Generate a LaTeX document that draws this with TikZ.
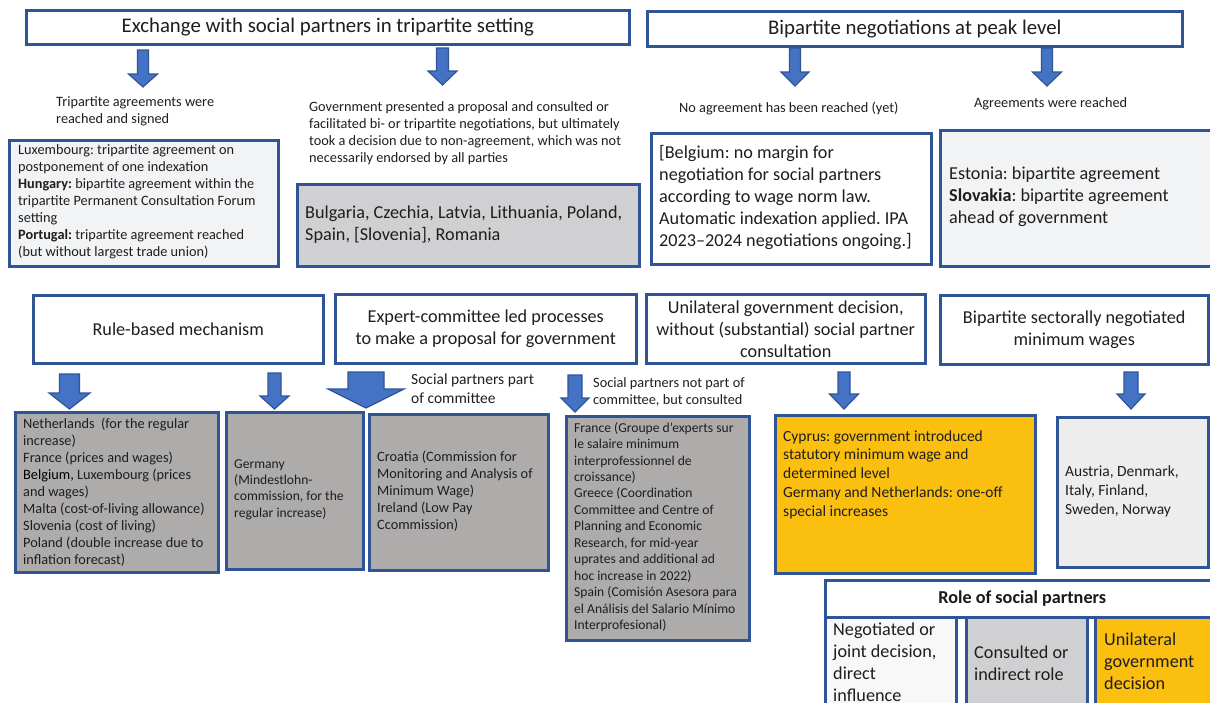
\documentclass[tikz,border=0pt]{standalone}
\usepackage{fontspec}
\setmainfont{Carlito}
\usetikzlibrary{calc}
\frenchspacing
\definecolor{bblue}{HTML}{2F5597}
\definecolor{afill}{HTML}{4472C4}
\definecolor{gold}{HTML}{FBBF10}
\definecolor{dgrey}{HTML}{AEABAB}
\definecolor{mgrey}{HTML}{D0D0D2}
\definecolor{lgreyA}{HTML}{F2F3F5}
\definecolor{lgreyB}{HTML}{EDEDED}
\definecolor{lgreyC}{HTML}{F8F8F8}
\definecolor{txtc}{HTML}{1E1E1E}
\newcommand\fs[2]{\fontsize{#1}{#2}\selectfont\frenchspacing}
\newcommand\barrow[6]{%
  \draw[barrowst] ({#1-#5},#2) -- ({#1+#5},#2) -- ({#1+#5},#3) -- ({#1+#6},#3) -- (#1,#4) -- ({#1-#6},#3) -- ({#1-#5},#3) -- cycle;}
\tikzset{
  box/.style={draw=bblue, line width=2.5pt, inner sep=0pt, anchor=north west, text=txtc},
  hdr/.style={box, align=center, font=\fs{18.2}{22}},
  lbl/.style={inner sep=0pt, align=left, anchor=west, text=txtc},
  small/.style={font=\fs{14.3}{17}},
  smaller/.style={font=\fs{13.6}{16.45}},
  medium/.style={font=\fs{15.5}{18.7}},
  large/.style={font=\fs{18.2}{22}},
  barrowst/.style={fill=afill, draw=bblue, line width=1.2pt, line join=miter},
}
\begin{document}
\begin{tikzpicture}[x=1pt,y=-1pt]
\fill[white] (0,0) rectangle (1210,702);
\useasboundingbox (0,0) rectangle (1210,702);

% ---- top headers
\node[box, minimum width=603pt, minimum height=34pt, font=\fs{20.8}{25}] (t1) at (25,9) {Exchange with social partners in tripartite setting};
\node[box, minimum width=535pt, minimum height=35pt, font=\fs{20.8}{25}] (t2) at (646,10) {Bipartite negotiations at peak level};

\barrow{143}{50}{74}{87}{5.5}{14.5}
\barrow{442.5}{48}{71}{85}{6}{14.5}
\barrow{795}{48}{72}{86}{5.5}{14}
\barrow{1047}{48}{72}{86}{5.5}{14.5}

\node[lbl, small] (la) at (56,111.5) {Tripartite agreements were\\reached and signed};
\node[lbl, small] (lb) at (309,133.5) {Government presented a proposal and consulted or\\facilitated bi- or tripartite negotiations, but ultimately\\took a decision due to non-agreement, which was not\\necessarily endorsed by all parties};
\node[lbl, small] (lc) at (679,108) {No agreement has been reached (yet)};
\node[lbl, small] (ld) at (974,104) {Agreements were reached};

% ---- top content boxes
\node[box, fill=lgreyA, minimum width=269pt, minimum height=126pt] (lux) at (8,139) {};
\node[lbl, small] (luxt) at (18,202) {Luxembourg: tripartite agreement on\\postponement of one indexation\\\textbf{Hungary:} bipartite agreement within the\\tripartite Permanent Consultation Forum\\setting\\\textbf{Portugal:} tripartite agreement reached\\(but without largest trade union)};

\node[box, fill=mgrey, minimum width=342pt, minimum height=82pt] (bul) at (296,183) {};
\node[lbl, large] (bult) at (305,225) {Bulgaria, Czechia, Latvia, Lithuania, Poland,\\Spain, [Slovenia], Romania};

\node[box, fill=white, minimum width=280pt, minimum height=131pt] (bel) at (650,132) {};
\node[lbl, large] (belt) at (659,197.5) {[Belgium: no margin for\\negotiation for social partners\\according to wage norm law.\\Automatic indexation applied. IPA\\2023--2024 negotiations ongoing.]};

\node[box, fill=lgreyA, minimum width=277pt, minimum height=136pt] (est) at (939,129) {};
\node[lbl, large] (estt) at (949,197) {Estonia: bipartite agreement\\\textbf{Slovakia}: bipartite agreement\\ahead of government};

% ---- second-row headers
\node[hdr, minimum width=290pt, minimum height=68pt] (rule) at (32,294) {Rule-based mechanism};
\node[hdr, minimum width=301pt, minimum height=69pt] (exp) at (334,293) {Expert-committee led processes\\to make a proposal for government};
\node[hdr, minimum width=279pt, minimum height=69pt] (uni) at (645,293) {Unilateral government decision,\\without (substantial) social partner\\consultation};
\node[hdr, minimum width=268pt, minimum height=69pt] (sec) at (939,294) {Bipartite sectorally negotiated\\minimum wages};

\barrow{69.5}{374}{393}{409}{10}{20.5}
\barrow{274.5}{373}{396}{409}{6.5}{14.5}
\barrow{366}{372}{389}{408}{18}{38}
\barrow{575}{375}{398}{412}{7}{14}
\barrow{844}{372}{394}{409}{6}{14.5}
\barrow{1131}{372}{394}{409}{7}{14}

\node[lbl, medium] (le) at (411,389) {Social partners part\\of committee};
\node[lbl, small] (lf) at (593,391.5) {Social partners not part of\\committee, but consulted};

% ---- bottom content boxes
\node[box, fill=dgrey, minimum width=203pt, minimum height=160pt] (neth) at (14,411) {};
\node[lbl, small] (netht) at (23,492) {Netherlands~ (for the regular\\increase)\\France (prices and wages)\\{\color{black}Belgium,} Luxembourg (prices\\and wages)\\Malta (cost-of-living allowance)\\Slovenia (cost of living)\\Poland (double increase due to\\inflation forecast)};

\node[box, fill=dgrey, minimum width=137pt, minimum height=157pt] (ger) at (225,411) {};
\node[lbl, smaller] (gert) at (234,489.5) {Germany\\(Mindestlohn-\\commission, for the\\regular increase)};

\node[box, fill=dgrey, minimum width=179pt, minimum height=156pt] (cro) at (368,413) {};
\node[lbl, small] (crot) at (377,491) {Croatia (Commission for\\Monitoring and Analysis of\\Minimum Wage)\\Ireland (Low Pay\\Ccommission)};

\node[box, fill=dgrey, minimum width=183pt, minimum height=224pt] (fra) at (565,415) {};
\node[lbl, smaller] (frat) at (574,527) {France (Groupe d’experts sur\\le salaire minimum\\interprofessionnel de\\croissance)\\Greece (Coordination\\Committee and Centre of\\Planning and Economic\\Research, for mid-year\\uprates and additional ad\\hoc increase in 2022)\\Spain (Comisión Asesora para\\el Análisis del Salario Mínimo\\Interprofesional)};

\node[box, fill=gold, minimum width=260pt, minimum height=158pt] (cyp) at (774,414) {};
\node[lbl, medium] (cypt) at (783,474.5) {Cyprus: government introduced\\statutory minimum wage and\\determined level\\Germany and Netherlands: one-off\\special increases};

\node[box, fill=lgreyB, minimum width=151pt, minimum height=150pt] (aus) at (1056,416) {};
\node[lbl, medium] (aust) at (1065,491.5) {Austria, Denmark,\\Italy, Finland,\\Sweden, Norway};

% ---- legend
\node[box, fill=white, minimum width=394pt, minimum height=37pt, font=\bfseries\fs{18.2}{22}, text=black!90] (leg) at (824,579) {Role of social partners};
\node[box, fill=lgreyC, minimum width=131pt, minimum height=92pt] (c1) at (824,616) {};
\node[box, fill=mgrey, minimum width=121pt, minimum height=92pt] (c2) at (965,616) {};
\node[box, fill=gold, minimum width=124pt, minimum height=92pt] (c3) at (1094,616) {};
\node[lbl, large] (c1t) at (833,662) {Negotiated or\\joint decision,\\direct\\influence};
\node[lbl, large] (c2t) at (974,663) {Consulted or\\indirect role};
\node[lbl, large] (c3t) at (1104,661.5) {Unilateral\\government\\decision};
\end{tikzpicture}
\end{document}
